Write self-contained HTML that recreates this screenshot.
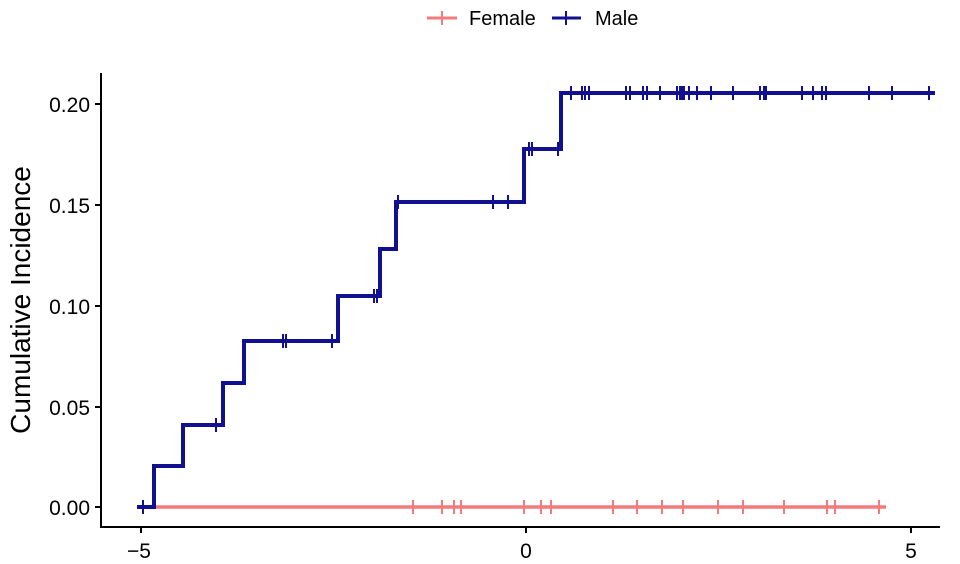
<!DOCTYPE html>
<html><head><meta charset="utf-8"><style>
html,body{margin:0;padding:0;background:#fff}
svg{display:block}
text{font-family:"Liberation Sans",Arial,sans-serif;fill:#000}
</style></head><body>
<svg width="960" height="564" viewBox="0 0 960 564" xmlns="http://www.w3.org/2000/svg">
<!-- legend -->
<line x1="427" y1="18" x2="457" y2="18" stroke="#f37b7b" stroke-width="3"/>
<line x1="442" y1="11" x2="442" y2="25" stroke="#f37b7b" stroke-width="2"/>
<text x="469" y="25" font-size="20">Female</text>
<line x1="552" y1="18" x2="581" y2="18" stroke="#101090" stroke-width="3"/>
<line x1="566" y1="11" x2="566" y2="25" stroke="#101090" stroke-width="2"/>
<text x="595" y="25" font-size="20">Male</text>
<!-- axes -->
<line x1="101" y1="73" x2="101" y2="528" stroke="#000" stroke-width="2"/>
<line x1="100" y1="527" x2="940" y2="527" stroke="#000" stroke-width="2"/>
<g stroke="#000" stroke-width="2">
<line x1="95" y1="104" x2="101" y2="104"/><line x1="95" y1="205" x2="101" y2="205"/>
<line x1="95" y1="306" x2="101" y2="306"/><line x1="95" y1="407" x2="101" y2="407"/>
<line x1="95" y1="507" x2="101" y2="507"/>
<line x1="141" y1="527" x2="141" y2="533"/><line x1="526" y1="527" x2="526" y2="533"/><line x1="911" y1="527" x2="911" y2="533"/>
</g>
<g font-size="21" text-anchor="end">
<text x="90" y="112">0.20</text><text x="90" y="213">0.15</text><text x="90" y="314">0.10</text>
<text x="90" y="415">0.05</text><text x="90" y="515">0.00</text>
</g>
<g font-size="21" text-anchor="middle">
<text x="139" y="558">−5</text><text x="526" y="558">0</text><text x="911" y="558">5</text>
</g>
<text transform="translate(30,300) rotate(-90)" font-size="28" text-anchor="middle">Cumulative Incidence</text>
<!-- female -->
<line x1="154" y1="507" x2="886" y2="507" stroke="#f37b7b" stroke-width="3.5"/>
<g stroke="#f37b7b" stroke-width="2">
<path d="M413 500v14M442 500v14M454 500v14M461 500v14M524 500v14M541 500v14M551 500v14M613 500v14M637 500v14M662 500v14M683 500v14M718 500v14M743 500v14M784 500v14M827 500v14M835 500v14M879 500v14"/>
</g>
<!-- male -->
<path d="M137 507H154V466H183V425H223V383H244V341H338V296H380V249H396V202H524V149H561V93H935" fill="none" stroke="#101090" stroke-width="4"/>
<g stroke="#101090" stroke-width="2">
<path d="M143 500v14M216 418v14M283 334v14M286 334v14M332 334v14M374 289v14M377 289v14M398 195v14M493 195v14M508 195v14M529 142v14M532 142v14M558 142v14"/>
<path d="M571 86v14M582 86v14M585 86v14M589 86v14M626 86v14M630 86v14M643 86v14M647 86v14M660 86v14M677 86v14M680 86v14M682 86v14M684 86v14M689 86v14M697 86v14M711 86v14M733 86v14M760 86v14M764 86v14M766 86v14M802 86v14M813 86v14M822 86v14M826 86v14M869 86v14M892 86v14M929 86v14"/>
</g>
</svg>
</body></html>
